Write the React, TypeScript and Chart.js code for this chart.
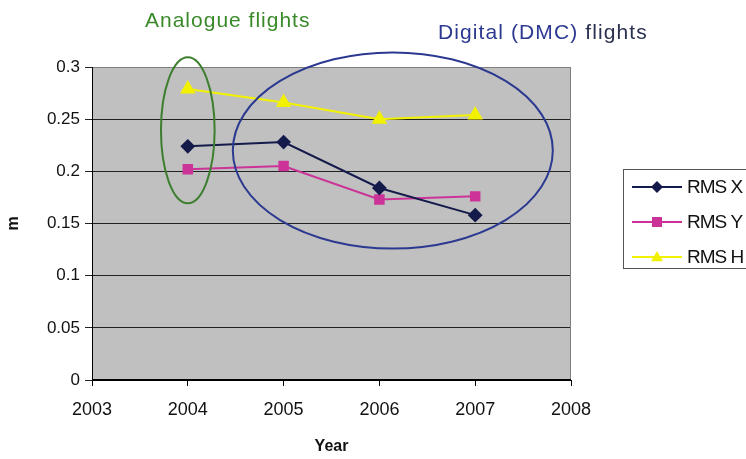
import React, { useEffect, useRef } from "react";
import { Chart, registerables } from "chart.js";

Chart.register(...registerables);

const years = [2004, 2005, 2006, 2007];
const rmsX = [0.224, 0.228, 0.184, 0.158];
const rmsY = [0.202, 0.205, 0.173, 0.176];
const rmsH = [0.279, 0.266, 0.25, 0.254];
const xTicks = [2003, 2004, 2005, 2006, 2007, 2008];
const yTicks = [0, 0.05, 0.1, 0.15, 0.2, 0.25, 0.3];
const yTickLabels = ["0", "0.05", "0.1", "0.15", "0.2", "0.25", "0.3"];
const seriesNames = ["RMS X", "RMS Y", "RMS H"];

const FONT = "'Liberation Sans', Arial, sans-serif";

function drawMarker(ctx: CanvasRenderingContext2D, style: string, x: number, y: number, color: string) {
  ctx.save();
  ctx.fillStyle = color;
  ctx.strokeStyle = color;
  ctx.beginPath();
  if (style === "rectRot") {
    const r = 6;
    ctx.moveTo(x, y - r);
    ctx.lineTo(x + r, y);
    ctx.lineTo(x, y + r);
    ctx.lineTo(x - r, y);
  } else if (style === "rect") {
    ctx.rect(x - 5, y - 5, 10, 10);
  } else {
    const r = 6;
    ctx.moveTo(x, y - r);
    ctx.lineTo(x + r, y + r * 0.7);
    ctx.lineTo(x - r, y + r * 0.7);
  }
  ctx.closePath();
  ctx.fill();
  ctx.restore();
}

const bgPlugin = {
  id: "plotBg",
  beforeDraw(chart: any) {
    const { ctx, chartArea: a } = chart;
    ctx.save();
    ctx.fillStyle = "#ffffff";
    ctx.fillRect(0, 0, chart.width, chart.height);
    ctx.fillStyle = "#c0c0c0";
    ctx.fillRect(a.left, a.top, a.right - a.left, a.bottom - a.top);
    ctx.restore();
  },
  afterDatasetsDraw(chart: any) {
    const { ctx, chartArea: a, scales } = chart;
    ctx.save();
    ctx.strokeStyle = "#808080";
    ctx.lineWidth = 1;
    ctx.strokeRect(a.left + 0.5, a.top + 0.5, a.right - a.left - 1, a.bottom - a.top - 1);
    ctx.strokeStyle = "#000";
    ctx.beginPath();
    ctx.moveTo(a.left + 0.5, a.top);
    ctx.lineTo(a.left + 0.5, a.bottom);
    ctx.moveTo(a.left, a.bottom - 0.5);
    ctx.lineTo(a.right, a.bottom - 0.5);
    ctx.stroke();
    // annotation ellipses
    const x = scales.x, y = scales.y;
    const ell = (cx: number, cy: number, rx: number, ry: number, color: string) => {
      const px = x.getPixelForValue(cx);
      const py = y.getPixelForValue(cy);
      const prx = Math.abs(x.getPixelForValue(cx + rx) - px);
      const pry = Math.abs(y.getPixelForValue(cy + ry) - py);
      ctx.beginPath();
      ctx.ellipse(px, py, prx, pry, 0, 0, Math.PI * 2);
      ctx.strokeStyle = color;
      ctx.lineWidth = 2;
      ctx.stroke();
    };
    ell(2004, 0.2394, 0.28, 0.07, "#3d7f2e");
    ell(2006.14, 0.22, 1.67, 0.094, "#2b3990");
    ctx.restore();
  },
  afterDraw(chart: any) {
    const { ctx } = chart;
    ctx.save();
    const bx = 623, by = 169, bh = 99;
    ctx.fillStyle = "#ffffff";
    ctx.fillRect(bx, by, 200, bh);
    ctx.strokeStyle = "#555";
    ctx.lineWidth = 1;
    ctx.strokeRect(bx + 0.5, by + 0.5, 200, bh);
    chart.data.datasets.forEach((ds: any, i: number) => {
      const yy = by + 18 + i * 35;
      ctx.strokeStyle = ds.borderColor;
      ctx.lineWidth = 2;
      ctx.beginPath();
      ctx.moveTo(632, yy);
      ctx.lineTo(682, yy);
      ctx.stroke();
      drawMarker(ctx, ds.pointStyle, 657, yy, ds.pointBackgroundColor);
      ctx.fillStyle = "#111";
      ctx.font = `19px ${FONT}`;
      (ctx as any).letterSpacing = "-1px";
      ctx.textBaseline = "middle";
      ctx.fillText(ds.label, 687, yy + 1);
      (ctx as any).letterSpacing = "0px";
    });
    ctx.restore();
  },
};

export default function App() {
  const ref = useRef<HTMLCanvasElement>(null);
  useEffect(() => {
    if (!ref.current) return;
    const mk = (vals: number[]) => years.map((yr, i) => ({ x: yr, y: vals[i] }));
    const chart = new Chart(ref.current, {
      type: "line",
      data: {
        datasets: [
          {
            label: seriesNames[0],
            data: mk(rmsX),
            borderColor: "#141a4a",
            backgroundColor: "#141a4a",
            pointBackgroundColor: "#141a4a",
            pointBorderColor: "#141a4a",
            pointStyle: "rectRot",
            pointRadius: 6,
            borderWidth: 2,
          },
          {
            label: seriesNames[1],
            data: mk(rmsY),
            borderColor: "#cc3399",
            backgroundColor: "#cc3399",
            pointBackgroundColor: "#cc3399",
            pointBorderColor: "#cc3399",
            pointStyle: "rect",
            pointRadius: 6,
            borderWidth: 2,
          },
          {
            label: seriesNames[2],
            data: mk(rmsH),
            borderColor: "#f2f200",
            backgroundColor: "#f2f200",
            pointBackgroundColor: "#f2f200",
            pointBorderColor: "#f2f200",
            pointStyle: "triangle",
            pointRadius: 7,
            borderWidth: 2,
          },
        ] as any,
      },
      options: {
        animation: false,
        responsive: false,
        devicePixelRatio: 1,
        layout: { padding: { left: 0, top: 67, right: 175, bottom: 0 } },
        plugins: { legend: { display: false }, tooltip: { enabled: false } },
        scales: {
          x: {
            type: "linear",
            min: 2003,
            max: 2008,
            afterBuildTicks: (s: any) => {
              s.ticks = xTicks.map((v) => ({ value: v }));
            },
            afterFit: (s: any) => {
              s.height = 79;
            },
            ticks: {
              callback: (v: any) => String(v),
              color: "#111",
              font: { family: FONT, size: 18 },
              padding: 13,
              maxRotation: 0,
            },
            grid: { drawOnChartArea: false, drawTicks: true, tickLength: 6, color: "#000" },
            border: { color: "#000" },
            title: {
              display: true,
              text: "Year",
              color: "#111",
              font: { family: FONT, size: 16, weight: "bold" },
              padding: { top: 0, bottom: 3 },
            },
          },
          y: {
            min: 0,
            max: 0.3,
            afterBuildTicks: (s: any) => {
              s.ticks = yTicks.map((v) => ({ value: v }));
            },
            afterFit: (s: any) => {
              s.width = 92;
            },
            ticks: {
              callback: (v: any) => {
                const i = yTicks.findIndex((t) => Math.abs(t - v) < 1e-9);
                return i >= 0 ? yTickLabels[i] : "";
              },
              color: "#111",
              font: { family: FONT, size: 17 },
              padding: 5,
            },
            grid: { color: "#222", lineWidth: 1, tickLength: 7 },
            border: { color: "#000" },
            title: {
              display: true,
              text: "m",
              color: "#111",
              font: { family: FONT, size: 16, weight: "bold" },
              padding: { top: 4, bottom: 0 },
            },
          },
        },
      } as any,
      plugins: [bgPlugin],
    });
    return () => chart.destroy();
  }, []);

  return (
    <div style={{ position: "absolute", left: 0, top: 0, width: 746, height: 459, background: "#fff", overflow: "hidden" }}>
      <canvas ref={ref} width={746} height={459} style={{ width: 746, height: 459, display: "block" }} />
      <div
        style={{
          position: "absolute",
          left: 145,
          top: 8,
          fontFamily: FONT,
          fontSize: 21,
          letterSpacing: 1,
          color: "#3a8a2a",
          whiteSpace: "nowrap",
        }}
      >
        Analogue flights
      </div>
      <div
        style={{
          position: "absolute",
          left: 438,
          top: 20,
          fontFamily: FONT,
          fontSize: 21,
          letterSpacing: 1.1,
          color: "#2b3990",
          whiteSpace: "nowrap",
        }}
      >
        Digital (DMC) <span style={{ color: "#2a3050" }}>flights</span>
      </div>
    </div>
  );
}
